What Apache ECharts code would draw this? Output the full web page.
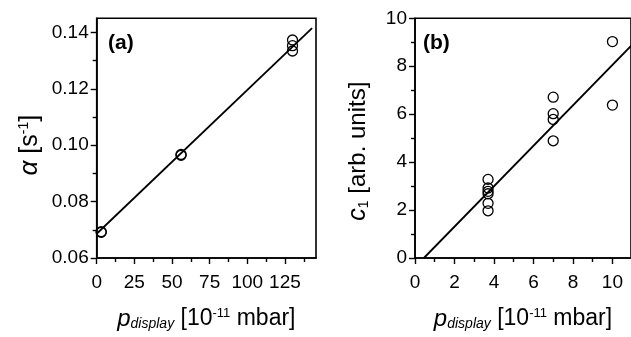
<!DOCTYPE html>
<html>
<head>
<meta charset="utf-8">
<script src="https://cdn.jsdelivr.net/npm/echarts@6/dist/echarts.min.js"></script>
<style>
  html, body { margin: 0; padding: 0; background: #fff; }
  #main { width: 631px; height: 337px; }
</style>
</head>
<body>
<div id="main"></div>
<script>
// (a) alpha vs p_display
var aX = [3, 3, 56, 56, 130, 130, 130];
var aY = [0.0691, 0.0693, 0.0964, 0.0967, 0.1373, 0.1353, 0.1334];
var aFitX = [0, 143];
var aFitY = [0.0686, 0.1415];
var aXTicks = [0, 25, 50, 75, 100, 125];
var aXMinor = [12.5, 37.5, 62.5, 87.5, 112.5, 137.5];
var aYTicks = [0.06, 0.08, 0.10, 0.12, 0.14];
var aYMinor = [0.07, 0.09, 0.11, 0.13];

// (b) c1 vs p_display
var bX = [3.7, 3.7, 3.7, 3.7, 3.7, 3.7, 7, 7, 7, 7, 10, 10];
var bY = [3.28, 2.92, 2.78, 2.68, 2.28, 1.97, 6.71, 6.02, 5.78, 4.89, 9.03, 6.38];
var bFitX = [0.45, 10.94];
var bFitY = [0, 8.85];
var bXTicks = [0, 2, 4, 6, 8, 10];
var bXMinor = [1, 3, 5, 7, 9];
var bYTicks = [0, 2, 4, 6, 8, 10];
var bYMinor = [1, 3, 5, 7, 9];

function pairs(xs, ys) {
  return xs.map(function (x, i) { return [x, ys[i]]; });
}

var FONT = 'Liberation Sans';
function nameRich(size) {
  return {
    it: { fontFamily: FONT, fontStyle: 'italic', fontSize: size + 1, color: '#000' },
    n: { fontFamily: FONT, fontSize: size, color: '#000' },
    sub: { fontFamily: FONT, fontStyle: 'italic', fontSize: Math.round(size * 0.6), color: '#000', verticalAlign: 'bottom', padding: [9, 0, 0, 0] },
    subn: { fontFamily: FONT, fontSize: Math.round(size * 0.6), color: '#000', verticalAlign: 'bottom', padding: [9, 0, 0, 0] },
    sup: { fontFamily: FONT, fontSize: Math.round(size * 0.58), color: '#000', verticalAlign: 'top', padding: [0, 0, 9, 0] }
  };
}

function majorAxis(grid, pos, min, max, ticks, margin, fmt, extra) {
  var ax = {
    type: 'value', gridIndex: grid, position: pos, min: min, max: max,
    axisLine: { show: true, onZero: false, lineStyle: { color: '#000', width: 1.6 } },
    axisTick: { show: true, inside: false, length: 6, customValues: ticks, lineStyle: { color: '#000', width: 1.4 } },
    axisLabel: { show: true, customValues: ticks, margin: margin, color: '#000', fontFamily: FONT, fontSize: 19, formatter: fmt },
    splitLine: { show: false }
  };
  for (var k in extra) ax[k] = extra[k];
  return ax;
}
function minorAxis(grid, pos, min, max, ticks) {
  return {
    type: 'value', gridIndex: grid, position: pos, min: min, max: max,
    axisLine: { show: false, onZero: false },
    axisTick: { show: true, inside: false, length: 4, customValues: ticks, lineStyle: { color: '#000', width: 1.4 } },
    axisLabel: { show: false },
    splitLine: { show: false }
  };
}

var xName = '{it|p}{sub|display}{n| [10}{sup|-11}{n| mbar]}';

var myChart = echarts.init(document.getElementById('main'), null, { renderer: 'canvas' });
var option = {
  animation: false,
  backgroundColor: '#fff',
  title: [
    { text: '(a)', left: 103, top: 28, textStyle: { fontFamily: FONT, fontWeight: 'bold', fontSize: 21, color: '#000' } },
    { text: '(b)', left: 418, top: 28, textStyle: { fontFamily: FONT, fontWeight: 'bold', fontSize: 21, color: '#000' } }
  ],
  grid: [
    { left: 96.7, top: 18.3, width: 219.3, height: 239.7, show: true, borderColor: '#000', borderWidth: 1.6, backgroundColor: 'transparent' },
    { left: 415, top: 18.3, width: 217, height: 239.7, show: true, borderColor: '#000', borderWidth: 1.6, backgroundColor: 'transparent' }
  ],
  xAxis: [
    majorAxis(0, 'bottom', 0, 145.6, aXTicks, 15, null, { name: xName, nameLocation: 'middle', nameGap: 49, nameTextStyle: { rich: nameRich(23) } }),
    majorAxis(1, 'bottom', 0, 10.94, bXTicks, 15, null, { name: xName, nameLocation: 'middle', nameGap: 49, nameTextStyle: { rich: nameRich(23) } }),
    minorAxis(0, 'bottom', 0, 145.6, aXMinor),
    minorAxis(1, 'bottom', 0, 10.94, bXMinor)
  ],
  yAxis: [
    majorAxis(0, 'left', 0.06, 0.145, aYTicks, 8, function (v) { return v.toFixed(2); },
      { name: '{it|\u03b1}{n| [s}{sup|-1}{n|]}', nameLocation: 'middle', nameGap: 54, nameTextStyle: { rich: nameRich(25), padding: [0, 14, 0, 0] } }),
    majorAxis(1, 'left', 0, 10, bYTicks, 8, null,
      { name: '{it|c}{subn|1}{n| [arb. units]}', nameLocation: 'middle', nameGap: 44, nameTextStyle: { rich: nameRich(24), padding: [0, 26, 0, 0] } }),
    minorAxis(0, 'left', 0.06, 0.145, aYMinor),
    minorAxis(1, 'left', 0, 10, bYMinor)
  ],
  series: [
    {
      type: 'line', xAxisIndex: 0, yAxisIndex: 0, data: pairs(aFitX, aFitY),
      symbol: 'none', lineStyle: { color: '#000', width: 1.8 }, z: 3
    },
    {
      type: 'scatter', xAxisIndex: 0, yAxisIndex: 0, data: pairs(aX, aY),
      symbol: 'circle', symbolSize: 10,
      itemStyle: { color: 'rgba(0,0,0,0)', borderColor: '#000', borderWidth: 1.3, opacity: 1 }, z: 4
    },
    {
      type: 'line', xAxisIndex: 1, yAxisIndex: 1, data: pairs(bFitX, bFitY),
      symbol: 'none', lineStyle: { color: '#000', width: 1.8 }, z: 3
    },
    {
      type: 'scatter', xAxisIndex: 1, yAxisIndex: 1, data: pairs(bX, bY),
      symbol: 'circle', symbolSize: 10,
      itemStyle: { color: 'rgba(0,0,0,0)', borderColor: '#000', borderWidth: 1.3, opacity: 1 }, z: 4
    }
  ]
};
myChart.setOption(option);
</script>
</body>
</html>
